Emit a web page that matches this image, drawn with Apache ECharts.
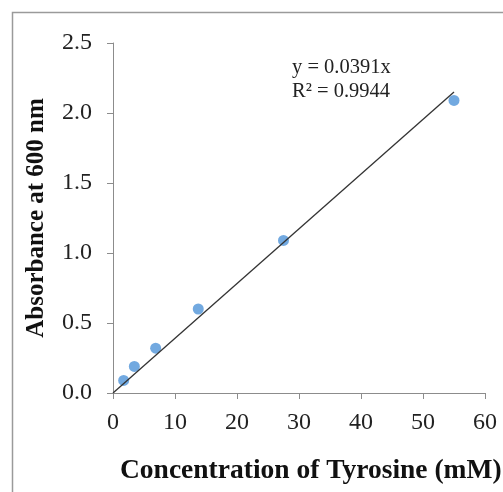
<!DOCTYPE html>
<html>
<head>
<meta charset="utf-8">
<script src="https://cdn.jsdelivr.net/npm/echarts@6/dist/echarts.min.js"></script>
<style>
html,body{margin:0;padding:0;background:#fff;}
#chart{width:503px;height:492px;}
</style>
</head>
<body>
<div id="chart"></div>
<script>
// Tyrosine standard curve: concentration (mM) vs absorbance at 600 nm
const concentration = [1.72, 3.44, 6.88, 13.75, 27.5, 55];
const absorbance = [0.09, 0.19, 0.32, 0.60, 1.09, 2.09];
const slope = 0.0391;
const rSquared = 0.9944;
const fitRange = [0, 55];

const points = concentration.map((c, i) => [c, absorbance[i]]);
const fitLine = fitRange.map(x => [x, slope * x]);

const serif = '"Liberation Serif", "Times New Roman", serif';
const chart = echarts.init(document.getElementById('chart'));

chart.setOption({
  animation: false,
  backgroundColor: '#fff',
  grid: { left: 113, top: 43, right: 18, bottom: 99, containLabel: false },
  xAxis: {
    type: 'value', min: 0, max: 60, interval: 10,
    axisLine: { show: true, lineStyle: { color: '#8c8c8c', width: 1 } },
    axisTick: { show: true, inside: false, length: 6, lineStyle: { color: '#8c8c8c' } },
    axisLabel: { color: '#222', fontFamily: serif, fontSize: 24, margin: 18 },
    splitLine: { show: false }
  },
  yAxis: {
    type: 'value', min: 0, max: 2.5, interval: 0.5,
    name: 'Absorbance at 600 nm',
    nameLocation: 'middle', nameGap: 64, nameRotate: 90,
    nameTextStyle: { color: '#111', fontFamily: serif, fontSize: 25, fontWeight: 'bold' },
    axisLine: { show: true, lineStyle: { color: '#8c8c8c', width: 1 } },
    axisTick: { show: true, inside: false, length: 6, lineStyle: { color: '#8c8c8c' } },
    axisLabel: { color: '#222', fontFamily: serif, fontSize: 24, margin: 21,
      formatter: v => v.toFixed(1) },
    splitLine: { show: false }
  },
  graphic: [
    { type: 'rect', left: 10, top: 10, silent: true, z: -1,
      shape: { width: 600, height: 600 },
      style: { fill: 'none', stroke: '#9a9a9a', lineWidth: 1.5 } },
    { type: 'text', left: 120, top: 457,
      style: { text: 'Concentration of Tyrosine (mM)', fill: '#111',
        font: 'bold 27.5px ' + serif } },
    { type: 'text', left: 292, top: 56,
      style: { text: 'y = ' + slope + 'x\nR\u00b2 = ' + rSquared, fill: '#222',
        font: '20.5px ' + serif, lineHeight: 24 } }
  ],
  series: [
    {
      type: 'scatter', data: points, symbol: 'circle', symbolSize: 11,
      itemStyle: { color: '#4f93d8' }, z: 2
    },
    {
      type: 'line', data: fitLine, showSymbol: false, symbol: 'none',
      lineStyle: { color: '#333', width: 1.3 }, z: 3
    }
  ]
});
</script>
</body>
</html>
